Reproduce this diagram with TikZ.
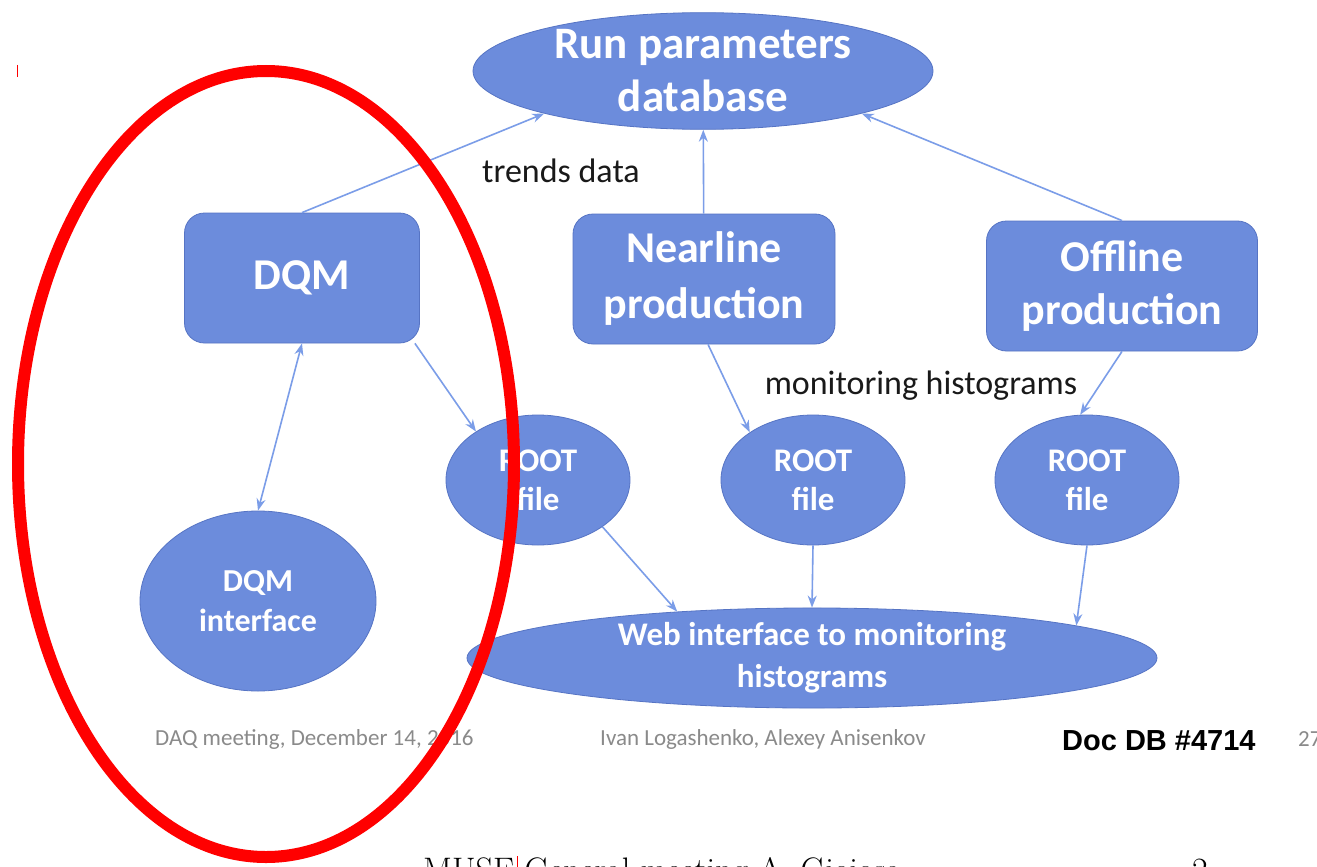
\documentclass[tikz,border=0pt]{standalone}
\usepackage{fontspec}
\usetikzlibrary{shapes.geometric,arrows.meta}
\newfontfamily\calib{Carlito}
\newfontfamily\arialf{Liberation Sans}
\definecolor{nodefill}{HTML}{6C8CDC}
\definecolor{nodeedge}{HTML}{5674C4}
\definecolor{linkblue}{HTML}{7B9DE8}
\definecolor{footgray}{HTML}{8A8A8A}
\tikzset{
  blob/.style={ellipse, fill=nodefill, draw=nodeedge, line width=0.8pt,
    inner sep=0pt, text=white, align=center},
  card/.style={rectangle, rounded corners=20pt, fill=nodefill, draw=nodeedge,
    line width=0.8pt, inner sep=0pt, text=white, align=center},
  link/.style={draw=linkblue, line width=1.6pt,
    -{Stealth[length=12pt,width=9pt]}},
  dlink/.style={draw=linkblue, line width=1.6pt,
    {Stealth[length=12pt,width=9pt]}-{Stealth[length=12pt,width=9pt]}},
  tag/.style={text=black!90, inner sep=0pt},
  foot/.style={text=footgray, inner sep=0pt, anchor=west},
}
\begin{document}
\begin{tikzpicture}[x=1pt,y=-1pt]
\useasboundingbox (0,0) rectangle (1317,867);
\fill[white] (0,0) rectangle (1317,867);

% central database
\node[blob, minimum width=460pt, minimum height=110pt,
      font=\calib\bfseries\fontsize{45}{53}\selectfont] (run) at (703,71)
  {Run parameters\\database};

% producers
\node[card, minimum width=235pt, minimum height=130pt,
      font=\calib\bfseries\fontsize{44}{53}\selectfont] (dqm) at (302,278) {DQM};
\node[card, minimum width=262pt, minimum height=130pt,
      font=\calib\bfseries\fontsize{44}{56}\selectfont] (near) at (704,279)
  {Nearline\\production};
\node[card, minimum width=271pt, minimum height=130pt,
      font=\calib\bfseries\fontsize{44}{53}\selectfont] (offl) at (1122,286)
  {Offline\\production};

% histogram files
\node[blob, minimum width=184pt, minimum height=130pt,
      font=\calib\bfseries\fontsize{33}{39}\selectfont] (root1) at (538,480) {ROOT\\file};
\node[blob, minimum width=184pt, minimum height=130pt,
      font=\calib\bfseries\fontsize{33}{39}\selectfont] (root2) at (813,480) {ROOT\\file};
\node[blob, minimum width=184pt, minimum height=130pt,
      font=\calib\bfseries\fontsize{33}{39}\selectfont] (root3) at (1087,480) {ROOT\\file};

% interfaces
\node[blob, minimum width=236pt, minimum height=180pt,
      font=\calib\bfseries\fontsize{32}{40}\selectfont] (dqmi) at (258,601)
  {DQM\\interface};
\node[blob, minimum width=690pt, minimum height=84pt,
      font=\calib\bfseries\fontsize{33}{42}\selectfont] (web) at (812,658)
  {Web interface to monitoring\\histograms};

% labels
\node[tag, font=\calib\fontsize{34}{40}\selectfont] (trends) at (561,171) {trends data};
\node[tag, font=\calib\fontsize{34}{40}\selectfont] (monh) at (921,386) {monitoring histograms};

% connectors
\draw[link] (dqm.north) -- (run.195);
\draw[link] (near) -- (run);
\draw[link] (offl.north) -- (run.345);
\draw[link] ([xshift=-5pt]dqm.south east) -- (root1.142);
\draw[link] ([xshift=4pt]near.south) -- (root2.143);
\draw[link] (offl.south) -- (root3.96);
\draw[dlink] (dqm.south) -- (dqmi.north);
\draw[link] (root1.324) -- (web.161);
\draw[link] (root2.south) -- (web.north);
\draw[link] (root3.south) -- (web.7);

% slide footer
\node[foot, font=\calib\fontsize{23}{27}\selectfont] (fdate) at (155,739)
  {DAQ meeting, December 14, 2016};
\node[foot, font=\calib\fontsize{23}{27}\selectfont] (fauth) at (600,739)
  {Ivan Logashenko, Alexey Anisenkov};
\node[inner sep=0pt, anchor=west, font=\arialf\bfseries\fontsize{29}{34}\selectfont]
  (docdb) at (1062,741) {Doc DB \#4714};
\node[foot, font=\calib\fontsize{23}{27}\selectfont] (fpage) at (1298,739) {27};

% outer slide footer, cut by the page edge
\node[inner sep=0pt, anchor=base west, font=\fontsize{34}{40}\selectfont]
  (muse) at (423,881) {MUSE General meeting A. Gioiosa};
\node[inner sep=0pt, anchor=base west, font=\fontsize{34}{40}\selectfont]
  (mpage) at (1192,881) {2};
\draw[red, line width=1pt] (17,65) -- (17,77);
\draw[red, line width=1pt] (517,856) -- (517,867);

% highlight
\draw[red, line width=12pt] (266,464) ellipse [x radius=248pt, y radius=393pt];
\end{tikzpicture}
\end{document}
